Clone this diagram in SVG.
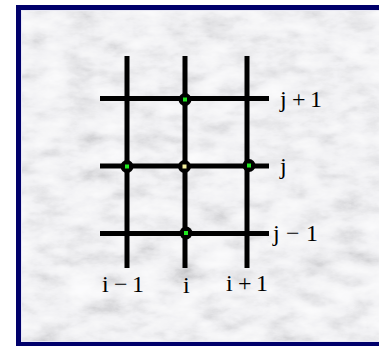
<svg xmlns="http://www.w3.org/2000/svg" width="379" height="347" viewBox="0 0 379 347">
<style>
.grid line{stroke:#000;stroke-width:5}
.lbl{font-family:"Liberation Serif","Times New Roman",serif;font-size:24px;fill:#000}
.node circle{fill:#000}
.g{fill:#1ee81e}
.y{fill:#f4f0a0}
</style>
<defs>
<filter id="marble" x="0" y="0" width="100%" height="100%">
<feTurbulence type="fractalNoise" baseFrequency="0.03 0.06" numOctaves="5" seed="11" result="n"/>
<feColorMatrix type="matrix" in="n" values="0.5 0.5 0 0 0  0.5 0.5 0 0 0  0.5 0.5 0 0 0  0 0 0 0 1" result="g"/>
<feComponentTransfer in="g">
<feFuncR type="table" tableValues="0.42 0.58 0.76 0.88 0.94 0.97 0.98"/>
<feFuncG type="table" tableValues="0.42 0.58 0.76 0.88 0.94 0.97 0.98"/>
<feFuncB type="table" tableValues="0.45 0.6 0.78 0.9 0.95 0.98 0.99"/>
</feComponentTransfer>
</filter>
</defs>
<rect width="379" height="347" fill="#ffffff"/>
<rect x="16" y="5" width="380" height="341" fill="#00006b"/>
<rect x="21" y="10" width="370" height="332" fill="#e8e8f4"/>
<rect x="22" y="11" width="370" height="330" fill="#e4e4e6" filter="url(#marble)"/>
<g id="connectors" class="grid">
<line x1="127" y1="56" x2="127" y2="268"/>
<line x1="185" y1="56" x2="185" y2="268"/>
<line x1="247" y1="56" x2="247" y2="268"/>
<line x1="100" y1="98.5" x2="269" y2="98.5"/>
<line x1="100" y1="166" x2="269" y2="166"/>
<line x1="100" y1="233.5" x2="269" y2="233.5"/>
</g>
<g id="node-top" class="node"><circle cx="185" cy="99.5" r="6.5"/><rect class="g" x="183" y="97.5" width="4" height="4"/></g>
<g id="node-left" class="node"><circle cx="127" cy="166.5" r="6.5"/><rect class="g" x="125" y="164.5" width="4" height="4"/></g>
<g id="node-center" class="node"><circle cx="184.5" cy="166.5" r="6.5"/><rect class="y" x="182.5" y="164.5" width="4" height="4"/></g>
<g id="node-right" class="node"><circle cx="249" cy="165.5" r="6.5"/><rect class="g" x="247" y="163.5" width="4" height="4"/></g>
<g id="node-bottom" class="node"><circle cx="186" cy="233" r="6.5"/><rect class="g" x="184" y="231" width="4" height="4"/></g>
<g id="labels">
<text class="lbl" x="280 292 310" y="107">j+1</text>
<text class="lbl" x="280" y="174">j</text>
<text class="lbl" x="273 286 306" y="241">j−1</text>
<text class="lbl" x="102 114 132" y="292">i−1</text>
<text class="lbl" x="183" y="293">i</text>
<text class="lbl" x="226 238 256" y="291">i+1</text>
</g>
</svg>
